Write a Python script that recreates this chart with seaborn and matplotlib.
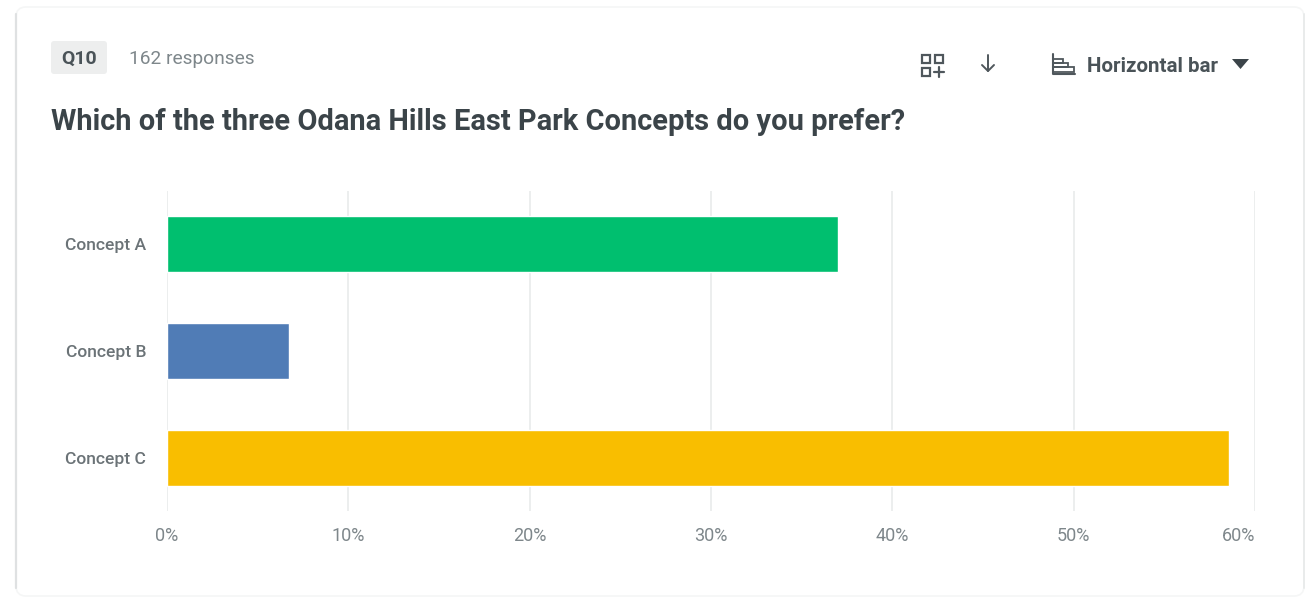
import matplotlib
matplotlib.use("Agg")
import matplotlib.pyplot as plt
from matplotlib.patches import FancyBboxPatch, Rectangle, Polygon
import pandas as pd
import seaborn as sns

# values
concepts = ["Concept A", "Concept B", "Concept C"]
percents = [37.0, 6.75, 58.55]
bar_colors = ["#00BF6F", "#507CB6", "#F9BE00"]
x_ticks = [0, 10, 20, 30, 40, 50, 60]

W, H = 1307, 597
df = pd.DataFrame({"concept": concepts, "percent": percents})

sns.set_theme(style="white")
plt.rcParams["font.family"] = ["Roboto", "DejaVu Sans"]

fig = plt.figure(figsize=(W / 100, H / 100), dpi=100, facecolor="white")

# overlay in pixel coords for the card, header text and icons
bg = fig.add_axes([0, 0, 1, 1], zorder=0)
bg.set_xlim(0, W)
bg.set_ylim(H, 0)
bg.axis("off")
bg.add_patch(FancyBboxPatch((16, 7), 1288, 589, boxstyle="round,pad=0,rounding_size=10",
                            fc="white", ec="#F5F6F6", lw=1.2))
bg.plot([16, 16], [14, 588], color="#DFE1E2", lw=1.6)
bg.plot([1304, 1304], [14, 588], color="#E9EBEB", lw=1.4)
bg.add_patch(FancyBboxPatch((51, 41), 56, 33, boxstyle="round,pad=0,rounding_size=3",
                            fc="#EDEEEE", ec="none"))
bg.text(79, 59, "Q10", ha="center", va="center", fontsize=14, fontweight="bold", color="#4A5358")
bg.text(129, 59, "162 responses", ha="left", va="center", fontsize=13.8, color="#7E878B")
bg.text(51, 122, "Which of the three Odana Hills East Park Concepts do you prefer?",
        ha="left", va="center", fontsize=20.9, fontweight="bold", color="#3B4449")
bg.text(1087, 66, "Horizontal bar", ha="left", va="center", fontsize=14.8, fontweight="bold", color="#4A5358")

# layout icon
icon = "#4F575C"
for x0, y0 in [(922, 55), (935, 55), (922, 68)]:
    bg.add_patch(Rectangle((x0, y0), 8, 8, fc="none", ec=icon, lw=1.6))
bg.plot([934, 944], [72, 72], color=icon, lw=1.6)
bg.plot([939, 939], [67, 77], color=icon, lw=1.6)
# sort arrow
bg.plot([988, 988], [55, 71], color=icon, lw=1.4)
bg.plot([982, 988, 994], [65, 71, 65], color=icon, lw=1.4)
# bar chart icon
bg.plot([1053, 1053, 1075], [54, 74, 74], color=icon, lw=1.5)
bg.add_patch(Rectangle((1053, 59), 10, 4, fc="none", ec=icon, lw=1.3))
bg.add_patch(Rectangle((1053, 63), 15, 4, fc="none", ec=icon, lw=1.3))
bg.add_patch(Rectangle((1053, 67), 21, 5, fc="none", ec=icon, lw=1.3))
# dropdown triangle
bg.add_patch(Polygon([(1232, 59), (1249, 59), (1240.5, 69)], fc="#3B4449", ec="none"))

# the chart itself
ax = fig.add_axes([167 / W, 1 - 511 / H, (1255 - 167) / W, (511 - 191) / H], zorder=1)
ax.patch.set_alpha(0)
sns.barplot(data=df, y="concept", x="percent", hue="concept", palette=bar_colors,
            width=0.525, legend=False, saturation=1, ax=ax, zorder=3)
ax.set_xlim(0, 60)
ax.set_ylim(2.5, -0.5)
ax.set_xlabel("")
ax.set_ylabel("")
ax.set_xticks(x_ticks)
ax.set_xticklabels([f"{t}%" for t in x_ticks], fontsize=13, color="#7E878B")
ax.get_xticklabels()[-1].set_ha("right")
ax.tick_params(axis="x", length=0, pad=11.5)
ax.tick_params(axis="y", length=0, pad=15)
for lab in ax.get_yticklabels():
    lab.set_fontsize(12.6)
    lab.set_fontweight("medium")
    lab.set_color("#6B7377")
ax.grid(axis="x", color="#E9EBEB", lw=1.2, zorder=0)
ax.set_axisbelow(True)
sns.despine(ax=ax, left=True, bottom=True)

fig.savefig("out.png", dpi=100)
